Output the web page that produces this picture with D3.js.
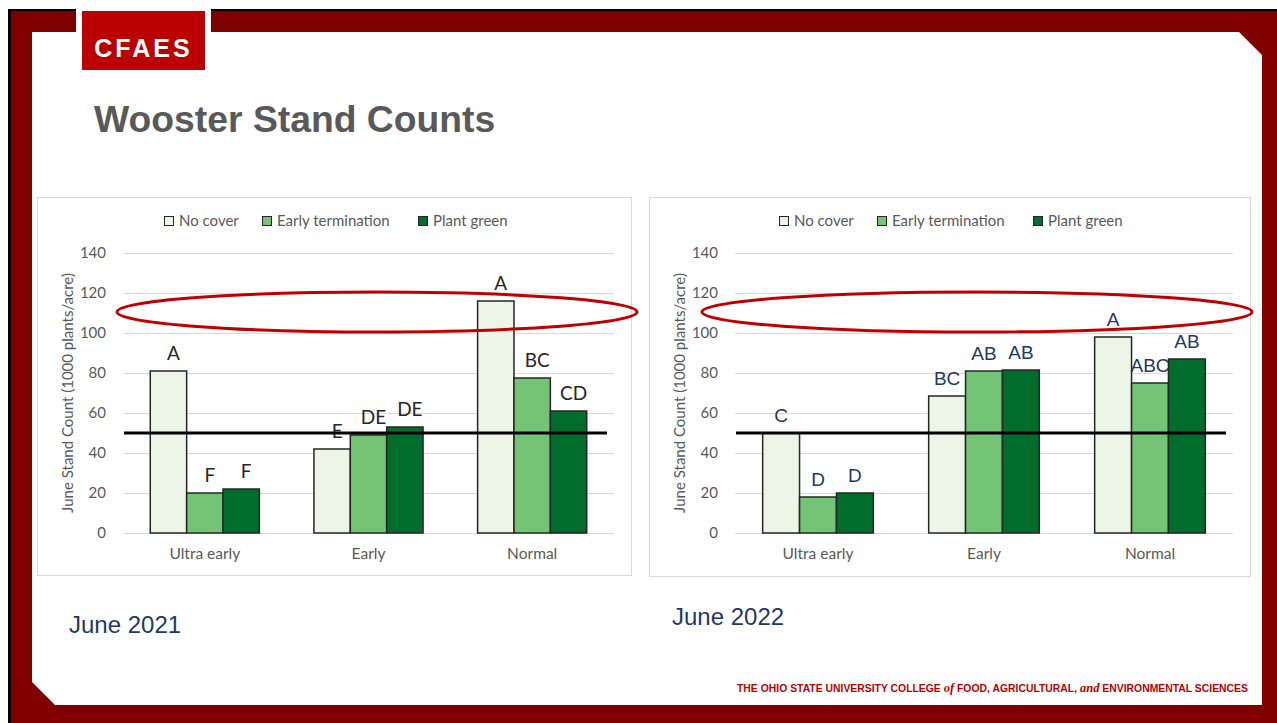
<!DOCTYPE html>
<html>
<head>
<meta charset="utf-8">
<script src="https://cdn.jsdelivr.net/npm/d3@7"></script>
<style>
  body { margin: 0; background: #fff; }
  svg { display: block; }
</style>
</head>
<body>
<svg id="slide" width="1277" height="723"></svg>
<script>
// data
const categories = ["Ultra early", "Early", "Normal"];
const seriesNames = ["No cover", "Early termination", "Plant green"];
const seriesColors = ["#ecf5e6", "#74c476", "#006d2c"];
const yTicks = [0, 20, 40, 60, 80, 100, 120, 140];

const counts2021 = [[81, 20, 22], [42, 49, 53], [116, 77.5, 61]];
const letters2021 = [["A", "F", "F"], ["E", "DE", "DE"], ["A", "BC", "CD"]];
const counts2022 = [[50, 18, 20], [68.5, 81, 81.5], [98, 75, 87]];
const letters2022 = [["C", "D", "D"], ["BC", "AB", "AB"], ["A", "ABC", "AB"]];

const thresholdValue = 50;
const circledValue = 110;
const yTitle = "June Stand Count (1000 plants/acre)";

const svg = d3.select("#slide");

// ---- slide frame ----
svg.append("rect").attr("x", 8).attr("y", 9).attr("width", 1269).attr("height", 714).attr("fill", "#000");
svg.append("rect").attr("x", 11).attr("y", 11).attr("width", 1266).attr("height", 712).attr("fill", "#800000");
svg.append("path")
    .attr("d", "M32,32 L1239,32 L1262,55 L1262,705 L55,705 L32,682 Z")
    .attr("fill", "#fff");
svg.append("rect").attr("x", 76).attr("y", 8).attr("width", 135).attr("height", 25).attr("fill", "#fff");
svg.append("rect").attr("x", 82).attr("y", 11).attr("width", 123).attr("height", 59).attr("fill", "#bb0000");
svg.append("text")
    .attr("x", 143.5).attr("y", 57)
    .attr("text-anchor", "middle")
    .attr("font-family", "Liberation Sans, Arial, sans-serif")
    .attr("font-weight", "bold")
    .attr("font-size", 25)
    .attr("letter-spacing", 3)
    .attr("fill", "#fff")
    .text("CFAES");

svg.append("text")
    .attr("x", 94).attr("y", 132)
    .attr("font-family", "Liberation Sans, Arial, sans-serif")
    .attr("font-weight", "bold")
    .attr("font-size", 37.3)
    .attr("fill", "#595959")
    .text("Wooster Stand Counts");

const footer = svg.append("text")
    .attr("x", 1248).attr("y", 692)
    .attr("text-anchor", "end")
    .attr("font-family", "Liberation Sans, Arial, sans-serif")
    .attr("font-weight", "bold")
    .attr("font-size", 10.4)
    .attr("fill", "#bb0000");
footer.append("tspan").text("THE OHIO STATE UNIVERSITY COLLEGE ");
footer.append("tspan").attr("font-family", "Liberation Serif, serif").attr("font-style", "italic").attr("font-size", 12.5).text("of");
footer.append("tspan").text(" FOOD, AGRICULTURAL, ");
footer.append("tspan").attr("font-family", "Liberation Serif, serif").attr("font-style", "italic").attr("font-size", 12.5).text("and");
footer.append("tspan").text(" ENVIRONMENTAL SCIENCES");

// ---- charts ----
function drawChart(cfg) {
    const g = svg.append("g");

    g.append("rect")
        .attr("x", cfg.left + 0.5).attr("y", cfg.top + 0.5)
        .attr("width", cfg.width).attr("height", cfg.height)
        .attr("fill", "#fff").attr("stroke", "#d9d9d9");

    const y = d3.scaleLinear().domain([0, 140]).range([533, 253]);

    const x0 = d3.scaleBand()
        .domain(categories)
        .range([cfg.plotL, cfg.plotR]);

    const x1 = d3.scaleBand()
        .domain(seriesNames)
        .range([0, x0.bandwidth()])
        .paddingInner(0)
        .paddingOuter(0.75);

    // grid
    const grid = g.append("g")
        .attr("transform", "translate(" + cfg.plotL + ",0)")
        .call(d3.axisLeft(y).tickValues(yTicks).tickSize(-(cfg.plotR - cfg.plotL)).tickFormat(""));
    grid.select(".domain").remove();
    grid.selectAll("line").attr("stroke", "#d9d9d9").attr("stroke-width", 1);

    // y labels
    const yAxis = g.append("g")
        .attr("transform", "translate(" + (cfg.plotL - 17) + ",0)")
        .call(d3.axisLeft(y).tickValues(yTicks).tickSize(0).tickPadding(0));
    yAxis.select(".domain").remove();
    yAxis.selectAll("text")
        .attr("font-family", "Lato, sans-serif")
        .attr("font-size", 15)
        .attr("fill", "#595959");

    g.append("text")
        .attr("transform", "translate(" + (cfg.plotL - 50) + "," + ((y(0) + y(140)) / 2) + ") rotate(-90)")
        .attr("text-anchor", "middle")
        .attr("font-family", "Lato, sans-serif")
        .attr("font-size", 15)
        .attr("fill", "#595959")
        .text(yTitle);

    // x labels
    const xAxis = g.append("g")
        .attr("transform", "translate(0," + y(0) + ")")
        .call(d3.axisBottom(x0).tickSize(0).tickPadding(15));
    xAxis.select(".domain").remove();
    xAxis.selectAll("text")
        .attr("font-family", "Lato, sans-serif")
        .attr("font-size", 15.5)
        .attr("fill", "#595959");

    // bars
    const rows = categories.map((c, i) => ({
        cat: c,
        items: seriesNames.map((s, j) => ({ s: s, j: j, v: cfg.counts[i][j], letter: cfg.letters[i][j] }))
    }));

    const groups = g.selectAll(".grp")
        .data(rows)
        .enter().append("g")
        .attr("class", "grp")
        .attr("transform", d => "translate(" + x0(d.cat) + ",0)");

    groups.selectAll("rect")
        .data(d => d.items)
        .enter().append("rect")
        .attr("x", d => x1(d.s))
        .attr("y", d => y(d.v))
        .attr("width", x1.bandwidth())
        .attr("height", d => y(0) - y(d.v))
        .attr("fill", d => seriesColors[d.j])
        .attr("stroke", "#262626")
        .attr("stroke-width", 1.5);

    // threshold
    g.append("line")
        .attr("x1", cfg.plotL + 1).attr("x2", cfg.plotR - 7)
        .attr("y1", y(thresholdValue)).attr("y2", y(thresholdValue))
        .attr("stroke", "#000").attr("stroke-width", 3);

    groups.selectAll(".letter")
        .data(d => d.items)
        .enter().append("text")
        .attr("class", "letter")
        .attr("x", d => x1(d.s) + x1.bandwidth() / 2 + cfg.letterDx)
        .attr("y", d => y(d.v) - 11)
        .attr("text-anchor", "middle")
        .attr("font-family", cfg.letterFont)
        .attr("font-size", cfg.letterSize)
        .attr("fill", cfg.letterColor)
        .text(d => d.letter);

    // legend
    const legend = g.append("g")
        .attr("transform", "translate(" + cfg.legendX + ",221)");
    const legendOffsets = [0, 98, 254];
    const li = legend.selectAll("g")
        .data(seriesNames)
        .enter().append("g")
        .attr("transform", (d, i) => "translate(" + legendOffsets[i] + ",0)");
    li.append("rect")
        .attr("x", 0.5).attr("y", -4.5)
        .attr("width", 9).attr("height", 9)
        .attr("fill", (d, i) => seriesColors[i])
        .attr("stroke", "#262626").attr("stroke-width", 1);
    li.append("text")
        .attr("x", 15).attr("y", 5)
        .attr("font-family", "Lato, sans-serif")
        .attr("font-size", 15)
        .attr("fill", "#595959")
        .text(d => d);

    // red ellipse annotation
    g.append("ellipse")
        .attr("cx", cfg.ellipseCx).attr("cy", y(circledValue) - 1)
        .attr("rx", cfg.ellipseRx).attr("ry", 20)
        .attr("fill", "none")
        .attr("stroke", "#c00000").attr("stroke-width", 3);

    g.append("text")
        .attr("x", cfg.captionX).attr("y", cfg.captionY)
        .attr("font-family", "Liberation Sans, Arial, sans-serif")
        .attr("font-size", 24)
        .attr("fill", "#1f3864")
        .text(cfg.caption);
}

drawChart({
    left: 37, top: 197, width: 594, height: 378,
    plotL: 123, plotR: 614,
    counts: counts2021, letters: letters2021,
    letterFont: "Lato, sans-serif", letterColor: "#262626", letterDx: 5, letterSize: 19,
    legendX: 164,
    ellipseCx: 377, ellipseRx: 260,
    caption: "June 2021", captionX: 69, captionY: 633
});

drawChart({
    left: 649, top: 197, width: 601, height: 379,
    plotL: 735, plotR: 1233,
    counts: counts2022, letters: letters2022,
    letterFont: "Liberation Sans, Arial, sans-serif", letterColor: "#1f3864", letterDx: 0, letterSize: 19,
    legendX: 779,
    ellipseCx: 977, ellipseRx: 275,
    caption: "June 2022", captionX: 672, captionY: 625
});
</script>
</body>
</html>
